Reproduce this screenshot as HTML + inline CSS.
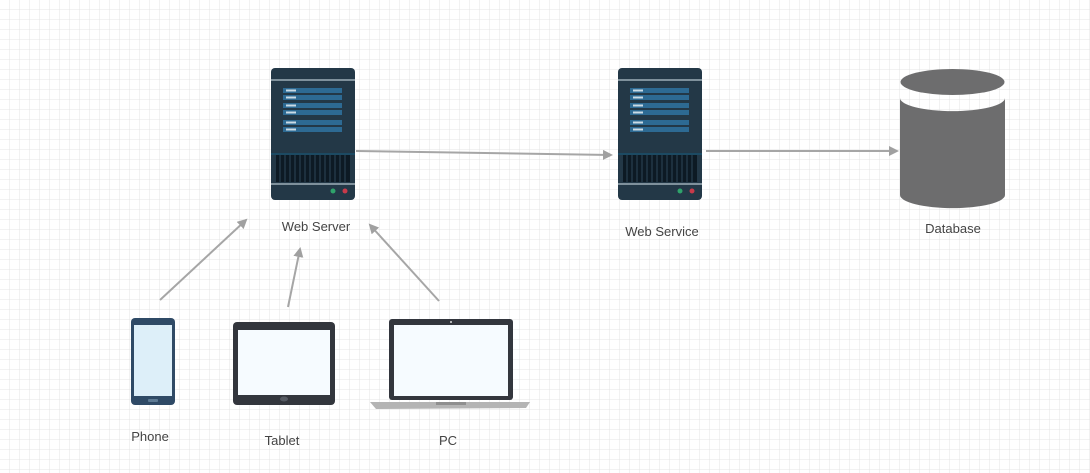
<!DOCTYPE html>
<html><head><style>body{margin:0;background:#fff}svg{display:block}text{font-family:"Liberation Sans",sans-serif;font-size:13px;fill:#444}</style></head><body>
<svg width="1090" height="473" xmlns="http://www.w3.org/2000/svg">
<defs>
<pattern id="g" width="10" height="10" patternUnits="userSpaceOnUse"><path d="M10 0V10H0" fill="none" stroke="#e4e4e4" stroke-width="1"/></pattern>
<marker id="a" markerWidth="10" markerHeight="10" refX="8" refY="5" orient="auto" markerUnits="userSpaceOnUse"><path d="M0 0L10 5L0 10z" fill="#a0a0a0"/></marker>
<g id="srv">
<rect x="0" y="0" width="84" height="132" rx="4" fill="#233847"/>
<rect x="0" y="11" width="84" height="2" fill="#7f919c"/>
<g fill="#2d6a93"><rect x="12" y="20" width="59" height="5"/><rect x="12" y="27" width="59" height="5"/><rect x="12" y="35" width="59" height="5"/><rect x="12" y="42" width="59" height="5"/><rect x="12" y="52" width="59" height="5"/><rect x="12" y="59" width="59" height="5"/></g>
<g fill="#c9dbe6"><rect x="15" y="21.5" width="10" height="2"/><rect x="15" y="28.5" width="10" height="2"/><rect x="15" y="36.5" width="10" height="2"/><rect x="15" y="43.5" width="10" height="2"/><rect x="15" y="53.5" width="10" height="2"/><rect x="15" y="60.5" width="10" height="2"/></g>
<rect x="0" y="85" width="84" height="2" fill="#1c4a63"/>
<rect x="5" y="87" width="74" height="27" fill="#0d1a24"/>
<g stroke="#233847" stroke-width="1.5"><path d="M9 87v27M14 87v27M19 87v27M24 87v27M29 87v27M34 87v27M39 87v27M44 87v27M49 87v27M54 87v27M59 87v27M64 87v27M69 87v27M74 87v27"/></g>
<rect x="0" y="115" width="84" height="2" fill="#7f919c"/>
<circle cx="62" cy="123" r="2.5" fill="#2fa36b"/><circle cx="74" cy="123" r="2.5" fill="#c83a4a"/>
</g>
</defs>
<rect width="1090" height="473" fill="url(#g)"/>
<use href="#srv" x="271" y="68"/>
<use href="#srv" x="618" y="68"/>
<text x="316" y="231" text-anchor="middle">Web Server</text>
<text x="662" y="236" text-anchor="middle">Web Service</text>
<text x="953" y="233" text-anchor="middle">Database</text>
<path d="M900 98V195A52 13 0 0 0 1005 195V98A52 13 0 0 1 900 98z" fill="#6d6d6e"/>
<ellipse cx="952.5" cy="82" rx="52" ry="13" fill="#6d6d6e"/>
<g stroke="#a6a6a6" stroke-width="2" fill="none" marker-end="url(#a)">
<path d="M356 151L611 155"/><path d="M706 151L897 151"/>
<path d="M160 300L246 220"/><path d="M288 307L300 249"/><path d="M439 301L370 225"/>
</g>
<rect x="131" y="318" width="44" height="87" rx="4" fill="#2f4a66"/>
<rect x="134" y="325" width="38" height="71" fill="#ddeff9"/>
<rect x="148" y="399" width="10" height="3" rx="1" fill="#5d7a94"/>
<rect x="233" y="322" width="102" height="83" rx="4" fill="#33363d"/>
<rect x="238" y="330" width="92" height="65" fill="#f6fbff"/>
<ellipse cx="284" cy="399" rx="4" ry="2.5" fill="#555a63"/>
<rect x="389" y="319" width="124" height="81" rx="3" fill="#33363d"/>
<rect x="394" y="325" width="114" height="71" fill="#f6fbff"/>
<circle cx="451" cy="322" r="1" fill="#ddd"/>
<path d="M370 402L530 402L526 408L376 409z" fill="#b4b4b4"/>
<rect x="436" y="402" width="30" height="3" fill="#8f8f8f"/>
<text x="150" y="441" text-anchor="middle">Phone</text>
<text x="282" y="445" text-anchor="middle">Tablet</text>
<text x="448" y="445" text-anchor="middle">PC</text>
</svg>
</body></html>
